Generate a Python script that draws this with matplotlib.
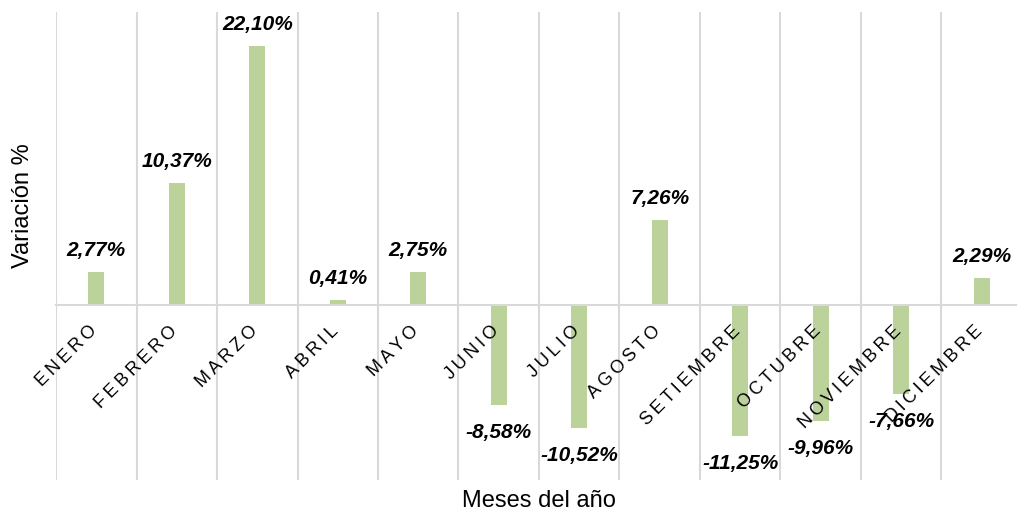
import matplotlib
matplotlib.use('Agg')
import matplotlib.pyplot as plt
import numpy as np

# monthly variation (%)
months = ['ENERO', 'FEBRERO', 'MARZO', 'ABRIL', 'MAYO', 'JUNIO', 'JULIO',
          'AGOSTO', 'SETIEMBRE', 'OCTUBRE', 'NOVIEMBRE', 'DICIEMBRE']
variation = [2.77, 10.37, 22.10, 0.41, 2.75, -8.58, -10.52,
             7.26, -11.25, -9.96, -7.66, 2.29]

plt.rcParams['font.family'] = ['Liberation Sans', 'DejaVu Sans']

W, H = 1017, 512
fig = plt.figure(figsize=(W / 100, H / 100), dpi=100)
# plot area: x 56..1022 px, y 12..480 px (right edge runs off the canvas)
ax = fig.add_axes([56 / W, (H - 480) / H, 966 / W, 468 / H])

x = np.arange(len(months))
ax.bar(x, variation, width=0.2, color='#bcd29b', zorder=3)

ax.set_xlim(-0.5, len(months) - 0.5)
ax.set_ylim(-15, 25)

# vertical gridlines between categories
ax.set_xticks(np.arange(-0.5, len(months), 1.0), minor=True)
ax.set_xticks([])
ax.grid(True, which='minor', axis='x', color='#d9d9d9', lw=1.5, zorder=0)
ax.tick_params(which='both', length=0, labelbottom=False)

for s in ['top', 'right', 'left']:
    ax.spines[s].set_visible(False)
ax.spines['bottom'].set_position(('data', 0))
ax.spines['bottom'].set_color('#d9d9d9')
ax.spines['bottom'].set_linewidth(1.5)
ax.spines['bottom'].set_zorder(4)
ax.set_yticks([])

# month labels (drawn on top of the bars), a little letter spacing
for xi, m in zip(x, months):
    ax.annotate('\u2009'.join(m), (xi, 0), xytext=(4, -18),
                textcoords='offset pixels', rotation=45,
                ha='right', va='top', fontsize=13, zorder=6)

# data labels
for xi, v in zip(x, variation):
    txt = f'{v:.2f}%'.replace('.', ',')
    if v >= 0:
        ax.annotate(txt, (xi, v), xytext=(0, 12), textcoords='offset pixels',
                    ha='center', va='bottom', fontsize=15,
                    fontweight='bold', fontstyle='italic', zorder=5)
    else:
        ax.annotate(txt, (xi, v), xytext=(0, -18), textcoords='offset pixels',
                    ha='center', va='top', fontsize=15,
                    fontweight='bold', fontstyle='italic', zorder=5)

fig.text(23 / W, 1 - 206 / H, 'Variación %', rotation=90, fontsize=17,
         ha='center', va='center')
fig.text(539 / W, 5 / H, 'Meses del año', fontsize=17,
         ha='center', va='baseline')

fig.savefig('out.png', dpi=100)
